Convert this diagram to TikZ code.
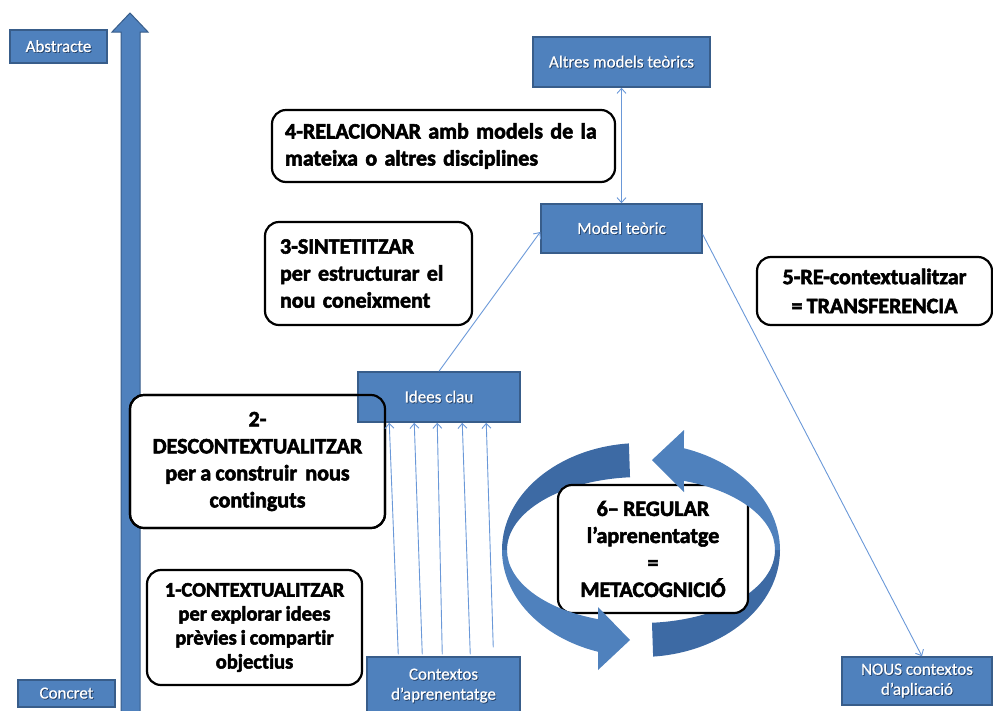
\documentclass[tikz,border=0pt]{standalone}
\usepackage{fontspec}
\setmainfont{Carlito}[Ligatures={NoCommon},WordSpace=0.85,BoldFeatures={FakeBold=2.5}]
\newfontfamily\labelfont{Carlito}[Ligatures={NoCommon},FakeBold=0.7]
\usetikzlibrary{arrows.meta,calc}
\definecolor{boxblue}{HTML}{4F81BD}
\definecolor{boxedge}{HTML}{385D8A}
\definecolor{boxshadow}{HTML}{1F3A5F}
\definecolor{linkblue}{HTML}{6A98D8}
\definecolor{ringlight}{HTML}{4F81BD}
\definecolor{ringdark}{HTML}{3D6AA4}
% white label with a small dark drop shadow
\newcommand\shadowed[1]{\makebox[0pt][l]{\kern0.8pt\raisebox{-0.8pt}{\textcolor{boxshadow}{#1}}}#1}
\tikzset{
  bluebox/.style={draw=boxedge, line width=1.5pt, fill=boxblue, text=white,
    font=\labelfont\fontsize{17}{20}\selectfont, align=center, inner sep=0pt},
  notebox/.style={draw=black, line width=2.2pt, rounded corners=14pt, fill=white,
    inner sep=0pt, outer sep=0pt, font=\fontsize{22}{27}\selectfont\bfseries},
  link/.style={draw=linkblue, line width=0.9pt},
  >={Straight Barb[length=5pt,width=9pt]},
}
\begin{document}
\begin{tikzpicture}[x=1pt,y=-1pt]
\clip (0,0) rectangle (993,710);

% vertical abstraction axis
\filldraw[fill=boxblue, draw=boxedge, line width=1pt]
  (121,716) -- (121,32) -- (112,32) -- (130,13) -- (148,32) -- (140,32) -- (140,716) -- cycle;
\node[bluebox, minimum width=97pt, minimum height=33pt] (abs) at (58.5,46.5) {\shadowed{Abstracte}};
\node[bluebox, minimum width=97pt, minimum height=27pt] (con) at (66.5,693.5) {\shadowed{Concret}};

% blue boxes
\node[bluebox, minimum width=177pt, minimum height=50pt] (alt) at (621.5,62) {\shadowed{Altres models teòrics}};
\node[bluebox, minimum width=161pt, minimum height=49pt] (mod) at (621.5,228.5) {\shadowed{Model teòric}};
\node[bluebox, minimum width=153pt, minimum height=58pt] (ctx) at (443.5,686)
  {\shadowed{Contextos}\\\shadowed{d’aprenentatge}};
\node[bluebox, minimum width=150pt, minimum height=48pt] (nou) at (917,681)
  {\shadowed{NOUS contextos}\\\shadowed{d’aplicació}};

% note boxes
\node[notebox, minimum width=343pt, minimum height=72pt, text width=317pt, align=left] (b4) at (443.5,146)
  {4-RELACIONAR amb models de la\\mateixa o altres disciplines};
\node[notebox, minimum width=207pt, minimum height=103pt, text width=177pt, align=left] (b3) at (368.5,273.5)
  {3-SINTETITZAR\\per estructurar el\\nou coneixment};
\node[notebox, minimum width=235pt, minimum height=68pt, align=center,
  font=\fontsize{22}{29}\selectfont\bfseries] (b5) at (874.5,291)
  {5-RE-contextualitzar\\= TRANSFERENCIA};
\node[notebox, minimum width=255pt, minimum height=133pt, align=center] (b2) at (257.5,461.5)
  {2-\\DESCONTEXTUALITZAR\\per a construir\hspace{4pt} nous\\continguts};
\node[notebox, minimum width=215pt, minimum height=115pt, align=center,
  font=\fontsize{20.5}{24}\selectfont\bfseries] (b1) at (254.5,627.5)
  {1-CONTEXTUALITZAR\\per explorar idees\\prèvies i compartir\\objectius};

% key ideas box sits over the filled note, its outline is traced again on top
\node[bluebox, minimum width=162pt, minimum height=50pt] (ide) at (439,397) {\shadowed{Idees clau}};
\draw[line width=2.2pt, rounded corners=14pt] (b2.north west) rectangle (b2.south east);

% connectors
\draw[link,<->] (alt.south) -- (mod.north);
\draw[link,->] (ide.north) -- ([yshift=-3.5pt]mod.west);
\draw[link,->] ([yshift=-6pt]mod.east) -- ([xshift=5pt]nou.north);
\foreach \a/\b/\c in {32/32/-2, 56/57/-2, 76/80/-2, 104/105/-2, 127/129/-9}
  \draw[link,->] ($(ctx.north west)+(\a,\c)$) -- ($(ide.south west)+(\b,0)$);

% regulation cycle: twisted ribbon, back faces (dark) pass behind the note
\fill[ringdark]
  ($(641,550)+(265:139 and 107)$) arc[start angle=265, end angle=180, x radius=139, y radius=107]
  -- ($(641,550)+(180:134 and 73)$) arc[start angle=180, end angle=265.3, x radius=134, y radius=73] -- cycle;
\fill[ringdark]
  ($(641,550)+(85:139 and 107)$) arc[start angle=85, end angle=0, x radius=139, y radius=107]
  -- ($(641,550)+(0:134 and 73)$) arc[start angle=0, end angle=85.3, x radius=134, y radius=73] -- cycle;

\node[notebox, minimum width=190pt, minimum height=128pt, align=center] (b6) at (653,549)
  {6– REGULAR\\l’aprenentatge\\=\\METACOGNICIÓ};

% front faces with the arrow heads
\fill[ringlight]
  ($(641,550)+(180:139 and 107)$) arc[start angle=180, end angle=108, x radius=139, y radius=107]
  -- (598,670) -- (630,640) -- (598,607)
  -- ($(641,550)+(108.7:134 and 73)$) arc[start angle=108.7, end angle=180, x radius=134, y radius=73] -- cycle;
\fill[ringlight]
  ($(641,550)+(0:139 and 107)$) arc[start angle=0, end angle=-72, x radius=139, y radius=107]
  -- (684,430) -- (652,460) -- (684,492)
  -- ($(641,550)+(-71.3:134 and 73)$) arc[start angle=-71.3, end angle=0, x radius=134, y radius=73] -- cycle;
\end{tikzpicture}
\end{document}
